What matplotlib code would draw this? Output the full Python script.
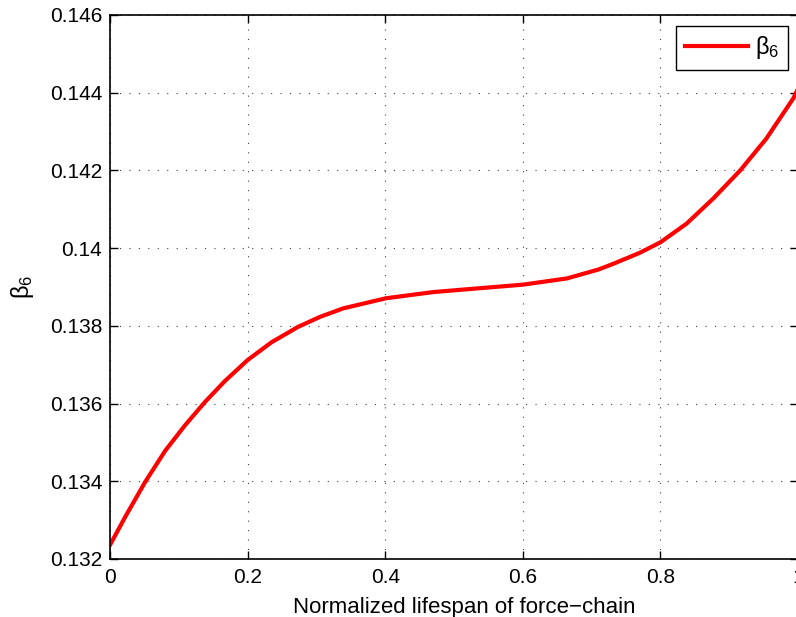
import matplotlib.pyplot as plt

plt.rcParams['font.family'] = ['Liberation Sans', 'DejaVu Sans']

# values
lifespan = [0.0, 0.022, 0.051, 0.08, 0.109, 0.138, 0.167, 0.2, 0.235, 0.273,
            0.305, 0.339, 0.401, 0.47, 0.538, 0.6, 0.664, 0.71, 0.732, 0.77,
            0.8, 0.838, 0.877, 0.916, 0.954, 0.993, 1.0]
beta6 = [0.13236, 0.13308, 0.13398, 0.13478, 0.13544, 0.13604, 0.13658,
         0.13712, 0.13758, 0.13797, 0.13823, 0.13845, 0.13871, 0.13887,
         0.13897, 0.13906, 0.13922, 0.13945, 0.1396, 0.13988, 0.14015,
         0.14063, 0.14128, 0.142, 0.14282, 0.14385, 0.1441]

x_ticks = [0, 0.2, 0.4, 0.6, 0.8, 1]
x_tick_labels = ['0', '0.2', '0.4', '0.6', '0.8', '1']
y_ticks = [0.132, 0.134, 0.136, 0.138, 0.14, 0.142, 0.144, 0.146]
y_tick_labels = ['0.132', '0.134', '0.136', '0.138', '0.14', '0.142', '0.144', '0.146']

fig = plt.figure(figsize=(7.96, 6.17), dpi=100)
# axes run past the right edge of the figure, as in the reference
ax = fig.add_axes([110 / 796, 58 / 617, 688 / 796, 544 / 617])

ax.plot(lifespan, beta6, color='red', linewidth=3, label=r'$\mathregular{\beta_6}$',
        solid_joinstyle='round')

ax.set_xlim(0, 1)
ax.set_ylim(0.132, 0.146)
ax.set_xticks(x_ticks)
ax.set_xticklabels(x_tick_labels)
ax.set_yticks(y_ticks)
ax.set_yticklabels(y_tick_labels)
ax.tick_params(direction='in', top=True, right=True, labelsize=15, length=6, width=1)
ax.tick_params(axis='y', pad=5.5)
ax.tick_params(axis='x', pad=6.5)

ax.grid(True, linestyle=(0, (1, 7.5)), color='0.25', linewidth=0.8)
for s in ax.spines.values():
    s.set_linewidth(1.2)

ax.set_xlabel('Normalized lifespan of force\u2212chain', fontsize=16, labelpad=4)
ax.xaxis.set_label_coords((464 - 110) / 688, -0.07)
ax.set_ylabel(r'$\mathregular{\beta_6}$', fontsize=17, labelpad=10)

leg = ax.legend(loc='upper right', bbox_to_anchor=((788 - 110) / 688, 1 - 11 / 544),
                fontsize=17, frameon=True, fancybox=False, handlelength=2.7,
                borderpad=0.35, handletextpad=0.3, borderaxespad=0)
leg.get_frame().set_edgecolor('black')
leg.get_frame().set_linewidth(1.0)
leg.get_frame().set_alpha(1)

fig.savefig('out.png', dpi=100)
